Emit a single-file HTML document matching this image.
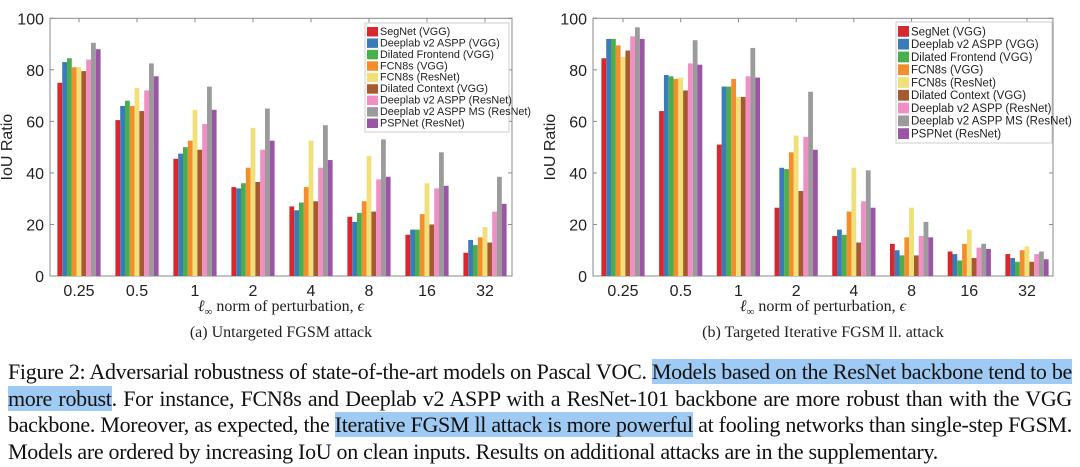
<!DOCTYPE html>
<html><head><meta charset="utf-8">
<style>
body{margin:0;width:1080px;height:467px;background:#fff;overflow:hidden;position:relative;font-family:"Liberation Serif",serif}
svg{position:absolute;left:0;top:0}
.cap{position:absolute;left:8px;width:1064px;font-size:22px;line-height:26.5px;top:359px;text-align:justify;color:#111;letter-spacing:-0.3px}
.hl{background:#9fcaf3}
</style></head><body>
<svg id="chart" width="1080" height="350"></svg>
<div class="cap">Figure 2: Adversarial robustness of state-of-the-art models on Pascal VOC. <span class="hl">Models based on the ResNet backbone tend to be more robust</span>. For instance, FCN8s and Deeplab v2 ASPP with a ResNet-101 backbone are more robust than with the VGG backbone. Moreover, as expected, the <span class="hl">Iterative FGSM ll attack is more powerful</span> at fooling networks than single-step FGSM. Models are ordered by increasing IoU on clean inputs. Results on additional attacks are in the supplementary.</div>
<script>
const categories=["0.25","0.5","1","2","4","8","16","32"];
const models=["SegNet (VGG)","Deeplab v2 ASPP (VGG)","Dilated Frontend (VGG)","FCN8s (VGG)","FCN8s (ResNet)","Dilated Context (VGG)","Deeplab v2 ASPP (ResNet)","Deeplab v2 ASPP MS (ResNet)","PSPNet (ResNet)"];
const colors=["#d7282f","#3a7bb8","#4aad4e","#f28e2b","#f0e07a","#a65a32","#ef8fc4","#9b9b9b","#9a55a4"];
const yTicks=[0,20,40,60,80,100];
const untargeted=[
[75,83,84.5,81,81,79.5,84,90.5,88],
[60.5,66,68,66,73,64,72,82.5,77.5],
[45.5,47.5,50,52.5,64.5,49,59,73.5,64.5],
[34.5,34,36,42,57.5,36.5,49,65,52.5],
[27,25.5,28.5,34.5,52.5,29,42,58.5,45],
[23,21,24.5,29,46.5,25,37.5,53,38.5],
[16,18,18,24,36,20,34,48,35],
[9,14,12,15,19,13,25,38.5,28]];
const targeted=[
[84.5,92,92,89.5,85,87.5,93,96.5,92],
[64,78,77.5,76.5,77,72,82.5,91.5,82],
[51,73.5,73.5,76.5,69.5,69.5,77.5,88.5,77],
[26.5,42,41.5,48,54.5,33,54,71.5,49],
[15.5,18,16,25,42,13,29,41,26.5],
[12.5,10,8,15,26.5,8,15.5,21,15],
[9.5,8.5,6,12.5,18,7,11,12.5,10.5],
[8.5,7,5.5,10,11.5,5.5,8.5,9.5,6.5]];

const svg=document.getElementById('chart');
const NS='http://www.w3.org/2000/svg';
function mk(t,a,p){const e=document.createElementNS(NS,t);for(const k in a)e.setAttribute(k,a[k]);(p||svg).appendChild(e);return e;}

function drawChart(cfg){
  const g=mk('g',{});
  
  
  const y=v=>cfg.y0+(cfg.y100-cfg.y0)*v/100;
  const step=(cfg.xLast-cfg.xFirst)/(categories.length-1);
  const x=i=>cfg.xFirst+i*step;
  const box=mk('rect',{x:cfg.left,y:cfg.y100,width:cfg.right-cfg.left,height:cfg.y0-cfg.y100,fill:'none',stroke:'#888','stroke-width':1},g);
  
  
  yTicks.forEach(t=>{
    mk('line',{x1:cfg.left,x2:cfg.left+4,y1:y(t),y2:y(t),stroke:'#888'},g);
    mk('line',{x1:cfg.right,x2:cfg.right-4,y1:y(t),y2:y(t),stroke:'#888'},g);
    const tx=mk('text',{x:cfg.left-6,y:y(t)+6,'text-anchor':'end','font-size':16,fill:'#222','font-family':'Liberation Sans, sans-serif'},g);
    tx.textContent=t;
    
    
  });
  const bw=4.8;
  cfg.data.forEach((vals,i)=>{
    const tx=mk('text',{x:x(i),y:cfg.y0+20,'text-anchor':'middle','font-size':16,fill:'#222','font-family':'Liberation Sans, sans-serif'},g);
    tx.textContent=categories[i];
    
    
    mk('line',{x1:x(i),x2:x(i),y1:cfg.y0,y2:cfg.y0-4,stroke:'#888'},g);
    mk('line',{x1:x(i),x2:x(i),y1:cfg.y100,y2:cfg.y100+4,stroke:'#888'},g);
    vals.forEach((v,j)=>{
      const r=mk('rect',{x:x(i)+(j-4.5)*bw,y:y(v),width:bw,height:y(0)-y(v),fill:colors[j]},g);
      
      
    });
  });
  const yl=mk('text',{x:0,y:0,transform:`translate(${cfg.left-38},${(cfg.y0+cfg.y100)/2}) rotate(-90)`,'text-anchor':'middle','font-size':16,fill:'#222','font-family':'Liberation Sans, sans-serif'},g);
  yl.textContent='IoU Ratio';
  
  
  const xl=mk('text',{x:(cfg.left+cfg.right)/2,y:cfg.y0+35,'text-anchor':'middle','font-size':16,fill:'#222'},g);
  xl.innerHTML='<tspan font-style="italic">ℓ</tspan><tspan font-size="11" dy="4">∞</tspan><tspan dy="-4"> norm of perturbation, </tspan><tspan font-style="italic">ϵ</tspan>';
  
  
  const st=mk('text',{x:(cfg.left+cfg.right)/2,y:cfg.y0+61,'text-anchor':'middle','font-size':16,fill:'#222'},g);
  st.textContent=cfg.sub;
  
  
  const lg=mk('g',{},g);
  
  
  mk('rect',{x:cfg.lx,y:cfg.ly,width:cfg.lw,height:cfg.lh,fill:'#fff',stroke:'#ccc'},lg);
  const rh=(cfg.lh-6)/models.length;
  models.forEach((m,j)=>{
    const e=mk('g',{},lg);
    
    
    mk('rect',{x:cfg.lx+2,y:cfg.ly+3+j*rh+1,width:11,height:rh-2,fill:colors[j]},e);
    const t=mk('text',{x:cfg.lx+15,y:cfg.ly+3+j*rh+rh-2.5,'font-size':cfg.fs,fill:'#222','font-family':'Liberation Sans, sans-serif'},e);
    t.textContent=m;
  });
}
drawChart({name:'untargeted-fgsm-chart',left:50,right:512,y0:276,y100:18.3,xFirst:79,xLast:485,data:untargeted,sub:'(a) Untargeted FGSM attack',lx:365,ly:23,lw:144,lh:109,fs:10.8});
drawChart({name:'targeted-iterative-chart',left:593,right:1053,y0:276,y100:18.3,xFirst:623,xLast:1027,data:targeted,sub:'(b) Targeted Iterative FGSM ll. attack',lx:896,ly:22,lw:156,lh:121,fs:11.5});
</script>
</body></html>
